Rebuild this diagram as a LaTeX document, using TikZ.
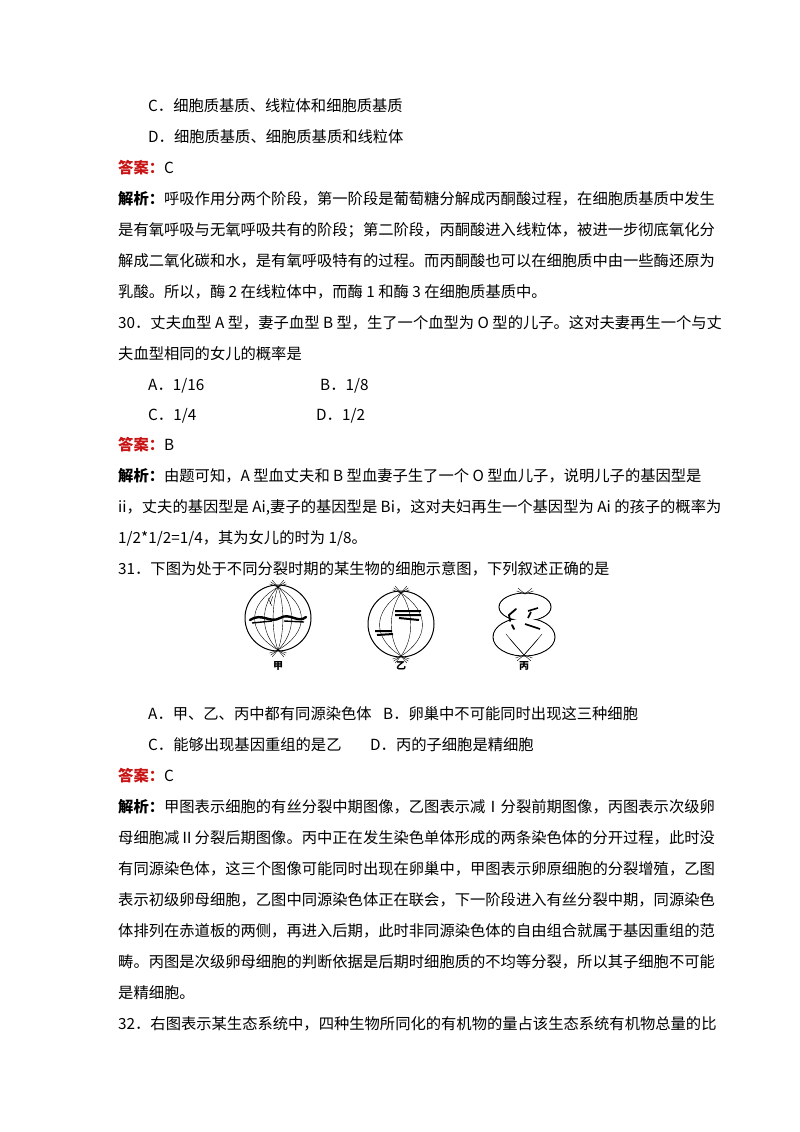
\documentclass[tikz,border=0pt]{standalone}
\usepackage{fontspec}
\setmainfont{Noto Sans CJK SC}
\definecolor{ansred}{RGB}{200,20,20}
\begin{document}
\begin{tikzpicture}[x=1pt,y=-1pt,
  ln/.style={anchor=base west,inner sep=0pt,font=\fontsize{15.3}{18}\selectfont},
  lab/.style={anchor=base,inner sep=0pt,font=\fontsize{10}{12}\selectfont\bfseries},
  sp/.style={line width=0.4pt},
  chr/.style={line width=2.4pt,line cap=round}]
\useasboundingbox[fill=white] (0,0) rectangle (800,1132);
\newcommand{\da}{{\color{ansred}\bfseries 答案：}}
\newcommand{\jx}{{\bfseries 解析：}}
\node[ln] (l1) at (148,111) {C．细胞质基质、线粒体和细胞质基质};
\node[ln] (l2) at (148,142) {D．细胞质基质、细胞质基质和线粒体};
\node[ln] (l3) at (118,173) {\da C};
\node[ln] (l4) at (118,204) {\jx 呼吸作用分两个阶段，第一阶段是葡萄糖分解成丙酮酸过程，在细胞质基质中发生};
\node[ln] (l5) at (118,235) {是有氧呼吸与无氧呼吸共有的阶段；第二阶段，丙酮酸进入线粒体，被进一步彻底氧化分};
\node[ln] (l6) at (118,266) {解成二氧化碳和水，是有氧呼吸特有的过程。而丙酮酸也可以在细胞质中由一些酶还原为};
\node[ln] (l7) at (118,297) {乳酸。所以，酶 2 在线粒体中，而酶 1 和酶 3 在细胞质基质中。};
\node[ln] (l8) at (118,328) {30．丈夫血型 A 型，妻子血型 B 型，生了一个血型为 O 型的儿子。这对夫妻再生一个与丈};
\node[ln] (l9) at (118,359) {夫血型相同的女儿的概率是};
\node[ln] (l10) at (148,390) {A．1/16};
\node[ln] (l11) at (320,390) {B．1/8};
\node[ln] (l12) at (148,420) {C．1/4};
\node[ln] (l13) at (316,420) {D．1/2};
\node[ln] (l14) at (118,450) {\da B};
\node[ln] (l15) at (118,481) {\jx 由题可知，A 型血丈夫和 B 型血妻子生了一个 O 型血儿子，说明儿子的基因型是};
\node[ln] (l16) at (118,512) {ii，丈夫的基因型是 Ai,妻子的基因型是 Bi，这对夫妇再生一个基因型为 Ai 的孩子的概率为};
\node[ln] (l17) at (118,543) {1/2*1/2=1/4，其为女儿的时为 1/8。};
\node[ln] (l18) at (118,574) {31．下图为处于不同分裂时期的某生物的细胞示意图，下列叙述正确的是};
% cell jia
\draw[line width=1pt] (278,618) circle[radius=33];
\coordinate (jt) at (278,587); \coordinate (jb) at (278,650);
\foreach \d in {-24,-14,-5,5,14,24}{\draw[sp] (jt) .. controls (278+\d*1.3,605) and (278+\d*1.3,632) .. (jb);}
\foreach \a in {200,215,230,310,325,340}{\draw[sp] (jt) -- ++(\a:9);}
\foreach \a in {20,35,50,130,145,160}{\draw[sp] (jb) -- ++(\a:9);}
\draw[chr] (250,620) .. controls (262,612) and (270,624) .. (280,618) .. controls (290,612) and (298,624) .. (306,617);
\draw[line width=1.4pt] (252,623) -- (272,621) (284,621) -- (304,622);
\draw[sp] (268,598) -- (272,606) (273,596) -- (270,604);
\node[lab] (ljia) at (278,669) {甲};
% cell yi
\draw[line width=1pt] (401,624) circle[radius=33];
\coordinate (yt) at (401,593); \coordinate (yb) at (401,656);
\foreach \d in {-22,-10,10,22}{\draw[sp] (yt) .. controls (401+\d*1.3,612) and (401+\d*1.3,638) .. (yb);}
\foreach \a in {200,215,230,310,325,340}{\draw[sp] (yt) -- ++(\a:9);}
\foreach \a in {20,35,50,130,145,160}{\draw[sp] (yb) -- ++(\a:9);}
\draw[line width=2pt] (395,611) -- (421,611) (395,615) -- (421,615) (399,618) -- (419,620);
\draw[line width=2pt] (375,631) -- (392,631) (377,635) -- (393,634);
\node[lab] (lyi) at (401,669) {乙};
% cell bing (figure eight)
\draw[line width=1pt] (525,607) ellipse[x radius=26,y radius=14];
\draw[line width=1pt] (524,637) ellipse[x radius=31,y radius=19];
\fill[white] (525,607) ellipse[x radius=25.2,y radius=13.2];
\fill[white] (524,637) ellipse[x radius=30.2,y radius=18.2];
\coordinate (bt) at (525,594); \coordinate (bb) at (524,655);
\foreach \a in {200,220,320,340}{\draw[sp] (bt) -- ++(\a:9);}
\foreach \a in {20,40,140,160}{\draw[sp] (bb) -- ++(\a:9);}
\draw[sp] (506,634) .. controls (514,644) and (520,650) .. (bb);
\draw[sp] (542,634) .. controls (534,644) and (528,650) .. (bb);
\draw[sp] (510,639) .. controls (516,646) .. (bb) (538,639) .. controls (532,646) .. (bb);
\draw[line width=1.8pt,line cap=round] (516,609) -- (509,615) -- (510,621) (512,625) -- (514,629);
\draw[line width=1.6pt] (528,611) -- (538,608) (531,612) -- (528,618) (525,624) -- (540,629);
\node[lab] (lbing) at (524,669) {丙};
\node[ln] (m1) at (148,719) {A．甲、乙、丙中都有同源染色体};
\node[ln] (m2) at (383,719) {B．卵巢中不可能同时出现这三种细胞};
\node[ln] (m3) at (148,750) {C．能够出现基因重组的是乙};
\node[ln] (m4) at (370,750) {D．丙的子细胞是精细胞};
\node[ln] (m5) at (118,781) {\da C};
\node[ln] (m6) at (118,812) {\jx 甲图表示细胞的有丝分裂中期图像，乙图表示减Ⅰ分裂前期图像，丙图表示次级卵};
\node[ln] (m7) at (118,843) {母细胞减Ⅱ分裂后期图像。丙中正在发生染色单体形成的两条染色体的分开过程，此时没};
\node[ln] (m8) at (118,874) {有同源染色体，这三个图像可能同时出现在卵巢中，甲图表示卵原细胞的分裂增殖，乙图};
\node[ln] (m9) at (118,905) {表示初级卵母细胞，乙图中同源染色体正在联会，下一阶段进入有丝分裂中期，同源染色};
\node[ln] (m10) at (118,936) {体排列在赤道板的两侧，再进入后期，此时非同源染色体的自由组合就属于基因重组的范};
\node[ln] (m11) at (118,967) {畴。丙图是次级卵母细胞的判断依据是后期时细胞质的不均等分裂，所以其子细胞不可能};
\node[ln] (m12) at (118,998) {是精细胞。};
\node[ln] (m13) at (118,1029) {32．右图表示某生态系统中，四种生物所同化的有机物的量占该生态系统有机物总量的比};
\end{tikzpicture}
\end{document}
